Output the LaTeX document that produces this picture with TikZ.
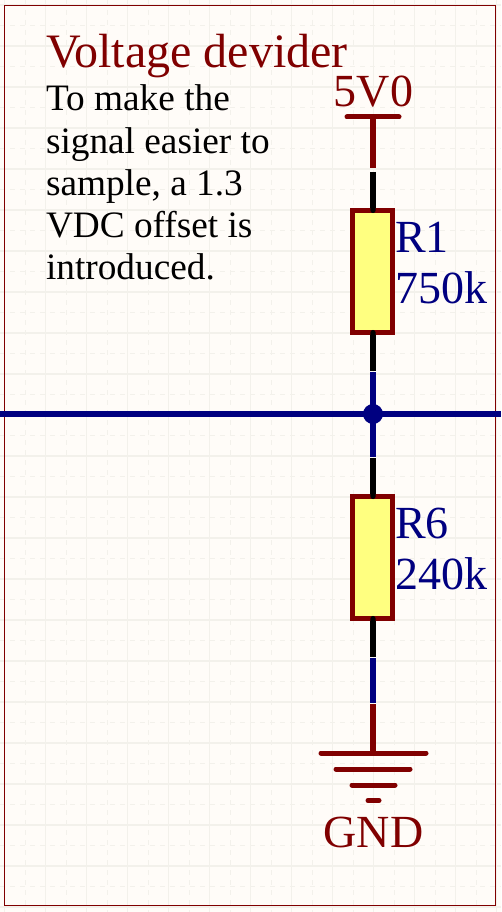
\documentclass[tikz,border=0pt]{standalone}
\usepackage{fontspec}
\usetikzlibrary{arrows.meta}
\setmainfont{Liberation Serif}
\definecolor{paper}{HTML}{FFFCF8}
\definecolor{gridc}{HTML}{F3F1EB}
\definecolor{dred}{HTML}{800000}
\definecolor{dblue}{HTML}{000080}
\definecolor{resfill}{HTML}{FFFF80}
\tikzset{
  x=1pt,y=-1pt,
  majorgrid/.style={gridc,line width=1.2pt},
  minorgrid/.style={gridc,line width=0.9pt,dash pattern=on 5pt off 5pt},
  frameline/.style={dred,line width=1pt},
  resistor/.style={draw=dred,fill=resfill,line width=5pt,minimum width=40pt,minimum height=122pt,inner sep=0pt,outer sep=0pt},
  pinwire/.style={black,line width=5.2pt,-{Round Cap[]},shorten >=-2.6pt},
  netwire/.style={dblue,line width=5.2pt},
  pwrwire/.style={dred,line width=5.2pt},
  pwrbar/.style={dred,line width=5pt,line cap=round},
  dot/.style={circle,fill=dblue,minimum size=20pt,inner sep=0pt,outer sep=0pt},
  lbl/.style={inner sep=0pt,outer sep=0pt,anchor=base west},
  titletext/.style={lbl,text=dred,font=\fontsize{48}{48}\selectfont},
  pwrtext/.style={inner sep=0pt,outer sep=0pt,anchor=base,text=dred,font=\fontsize{46}{46}\selectfont},
  valtext/.style={lbl,text=dblue,font=\fontsize{46}{46}\selectfont},
  notetext/.style={inner sep=0pt,outer sep=0pt,anchor=north west,align=left,text=black,font=\fontsize{37.3}{42.2}\selectfont},
}
\begin{document}
\begin{tikzpicture}
\useasboundingbox (0,0) rectangle (501,912);
\fill[paper] (0,0) rectangle (501,912);
% grid
\foreach \k in {0,...,12}{\draw[majorgrid] ({4.5+41*\k},0) -- ({4.5+41*\k},912);}
\foreach \k in {0,...,12}{\draw[minorgrid] ({25+41*\k},0) -- ({25+41*\k},912);}
\foreach \k in {0,...,22}{\draw[majorgrid] (0,{5+41*\k}) -- (501,{5+41*\k});}
\foreach \k in {0,...,22}{\draw[minorgrid] (0,{25.5+41*\k}) -- (501,{25.5+41*\k});}
% frame
\draw[frameline] (4.5,5.5) rectangle (495.5,905.5);
% named points
\coordinate (vccL) at (347,117);
\coordinate (vccR) at (399,117);
\coordinate (vcc) at (373,117);
\coordinate (a1) at (373,168);
\coordinate (a2) at (373,172);
\coordinate (b1) at (373,371);
\coordinate (b2) at (373,372);
\coordinate (c1) at (373,457);
\coordinate (c2) at (373,458);
\coordinate (d1) at (373,657);
\coordinate (d2) at (373,658);
\coordinate (e1) at (373,703);
\coordinate (e2) at (373,704);
\coordinate (netL) at (0,414);
\coordinate (netR) at (501,414);
\coordinate (gndTop) at (373,753);
\coordinate (g1L) at (321,753);
\coordinate (g1R) at (426,753);
\coordinate (g2L) at (336,769);
\coordinate (g2R) at (410,769);
\coordinate (g3L) at (352,785);
\coordinate (g3R) at (395,785);
\coordinate (g4L) at (368,800.5);
\coordinate (g4R) at (379,800.5);
% resistors
\node[resistor] (R1) at (372.5,271.5) {};
\node[resistor] (R6) at (372.5,557.5) {};
% wires
\draw[pwrwire] (vcc) -- (a1);
\draw[netwire] (b2) -- (c1);
\draw[netwire] (netL) -- (netR);
\draw[netwire] (d2) -- (e1);
\draw[pwrwire] (e2) -- (gndTop);
\draw[pinwire] (a2) -- (R1.north -| a2);
\draw[pinwire] (b1) -- (R1.south -| b1);
\draw[pinwire] (c2) -- (R6.north -| c2);
\draw[pinwire] (d1) -- (R6.south -| d1);
% junction
\node[dot] (J) at (373,414) {};
% power symbols
\draw[pwrbar] (vccL) -- (vccR);
\draw[pwrbar] (g1L) -- (g1R);
\draw[pwrbar] (g2L) -- (g2R);
\draw[pwrbar] (g3L) -- (g3R);
\draw[pwrbar] (g4L) -- (g4R);
% text
\node[titletext] (title) at (46,68) {Voltage devider};
\node[notetext] (note) at (46,85) {To make the\\signal easier to\\sample, a 1.3\\VDC offset is\\introduced.};
\node[pwrtext] (vcclbl) at (373.5,107) {5V0};
\node[pwrtext] (gndlbl) at (373.5,847) {GND};
\node[valtext] (r1n) at (395,252) {R1};
\node[valtext] (r1v) at (395,303) {750k};
\node[valtext] (r6n) at (395,538) {R6};
\node[valtext] (r6v) at (395,589) {240k};
\end{tikzpicture}
\end{document}
